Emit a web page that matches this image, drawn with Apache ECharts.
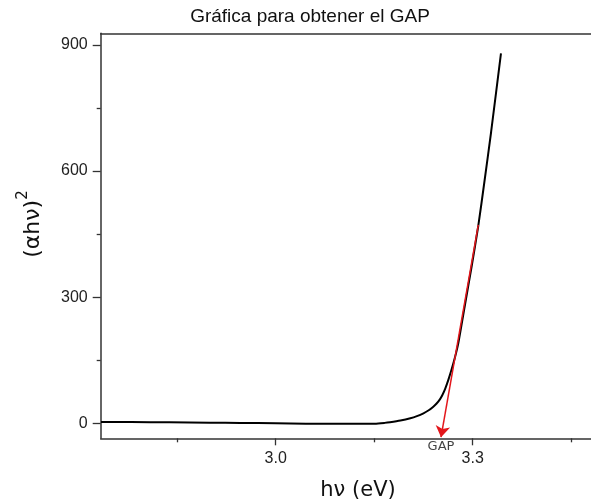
<!DOCTYPE html>
<html>
<head>
<meta charset="utf-8">
<script src="https://cdn.jsdelivr.net/npm/echarts@6/dist/echarts.min.js"></script>
<style>
  html, body { margin: 0; padding: 0; background: #fff; }
  #chart { width: 591px; height: 502px; }
</style>
</head>
<body>
<div id="chart"></div>
<script>
// Photon energy hν (eV) and (αhν)² for the absorption edge
var hv = [2.734, 2.78, 2.838, 2.90, 2.946, 3.00, 3.046, 3.10, 3.151, 3.166, 3.174, 3.19,
          3.205, 3.215, 3.225, 3.233, 3.240, 3.245, 3.250, 3.254, 3.258, 3.263, 3.268,
          3.273, 3.278, 3.288, 3.298, 3.3085, 3.318, 3.328, 3.343];
var alphaHv2 = [3.1, 2.9, 2.6, 1.5, 0.7, 0.2, -0.8, -1.0, -0.8, 1.0, 2.5, 6.5,
                11.9, 17, 23.8, 31, 39.5, 47, 57, 68, 82, 104, 129,
                157, 190, 280, 370, 470, 577, 693, 880];

// Linear fit of the steep part, extrapolated down to the energy axis
var tangentX = [3.3085, 3.2517];
var tangentY = [472, -33];
var gapLabel = 'GAP';

// Axis ticks
var xMajorTicks = [3.0, 3.3];
var xMinorTicks = [2.85, 3.15, 3.45];
var yMajorTicks = [0, 300, 600, 900];
var yMinorTicks = [150, 450, 750];

var X_MIN = 2.7335, X_MAX = 3.4801;
var Y_MIN = -35.7, Y_MAX = 927.8;

var curve = hv.map(function (x, i) { return [x, alphaHv2[i]]; });
var tangent = tangentX.map(function (x, i) { return [x, tangentY[i]]; });
var gapPoint = [[tangentX[1], tangentY[1]]];

var axisColor = '#333';
var labelFont = { fontFamily: 'Liberation Sans, Arial, sans-serif', fontSize: 16, color: '#222' };

var chart = echarts.init(document.getElementById('chart'), null, { renderer: 'canvas' });

chart.setOption({
  animation: false,
  backgroundColor: '#fff',
  title: {
    text: 'Gráfica para obtener el GAP',
    left: 305, textAlign: 'center', top: 2,
    textStyle: { fontFamily: 'Liberation Sans, Arial, sans-serif', fontSize: 19, fontWeight: 'normal', color: '#111' }
  },
  grid: { left: 100.7, right: 0, top: 33.3, bottom: 63.7, containLabel: false, outerBoundsMode: 'none' },
  xAxis: [
    {
      type: 'value', position: 'bottom', min: X_MIN, max: X_MAX,
      axisLine: { show: true, onZero: false, lineStyle: { color: axisColor, width: 1.5 } },
      axisTick: { show: true, inside: false, length: 7, customValues: xMajorTicks, lineStyle: { color: axisColor, width: 1.3 } },
      axisLabel: Object.assign({ show: true, margin: 12, customValues: xMajorTicks,
        formatter: function (v) { return v.toFixed(1); } }, labelFont),
      splitLine: { show: false }
    },
    {
      type: 'value', position: 'bottom', min: X_MIN, max: X_MAX,
      axisLine: { show: false, onZero: false },
      axisTick: { show: true, length: 4, customValues: xMinorTicks, lineStyle: { color: axisColor, width: 1.3 } },
      axisLabel: { show: false },
      splitLine: { show: false }
    },
    {
      type: 'value', position: 'top', min: X_MIN, max: X_MAX,
      axisLine: { show: true, onZero: false, lineStyle: { color: axisColor, width: 1.5 } },
      axisTick: { show: false }, axisLabel: { show: false }, splitLine: { show: false }
    }
  ],
  yAxis: [
    {
      type: 'value', position: 'left', min: Y_MIN, max: Y_MAX,
      axisLine: { show: true, onZero: false, lineStyle: { color: axisColor, width: 1.5 } },
      axisTick: { show: true, length: 8, customValues: yMajorTicks, lineStyle: { color: axisColor, width: 1.3 } },
      axisLabel: Object.assign({ show: true, margin: 13, customValues: yMajorTicks }, labelFont),
      splitLine: { show: false }
    },
    {
      type: 'value', position: 'left', min: Y_MIN, max: Y_MAX,
      axisLine: { show: false, onZero: false },
      axisTick: { show: true, length: 4, customValues: yMinorTicks, lineStyle: { color: axisColor, width: 1.3 } },
      axisLabel: { show: false },
      splitLine: { show: false }
    }
  ],
  graphic: [
    {
      type: 'text', x: 358, y: 491,
      style: { text: 'hν (eV)', fontFamily: 'DejaVu Sans, sans-serif', fontSize: 21, fill: '#111',
        textAlign: 'center', textVerticalAlign: 'middle' }
    },
    {
      type: 'text', x: 30, y: 224, rotation: Math.PI / 2,
      style: {
        text: '{a|(αhν)}{s|2}',
        textAlign: 'center', textVerticalAlign: 'middle',
        rich: {
          a: { fontFamily: 'DejaVu Sans, sans-serif', fontSize: 22, fill: '#111', lineHeight: 28, verticalAlign: 'bottom' },
          s: { fontFamily: 'DejaVu Sans, sans-serif', fontSize: 15, fill: '#111', lineHeight: 28, verticalAlign: 'top' }
        }
      }
    }
  ],
  series: [
    {
      type: 'line', xAxisIndex: 0, yAxisIndex: 0,
      data: curve, showSymbol: false, smooth: 0.2,
      lineStyle: { color: '#000', width: 2 }, z: 2
    },
    {
      type: 'lines', coordinateSystem: 'cartesian2d', xAxisIndex: 0, yAxisIndex: 0,
      polyline: false,
      symbol: ['none', 'arrow'], symbolSize: [6, 11],
      lineStyle: { color: '#e3161b', width: 1.5, opacity: 1 },
      data: [{ coords: tangent }],
      z: 3
    },
    {
      // band-gap marker text under the arrow tip
      type: 'scatter', xAxisIndex: 0, yAxisIndex: 0,
      data: gapPoint, symbolSize: 0, silent: true, clip: false,
      label: { show: true, position: 'bottom', distance: 3, formatter: gapLabel,
        fontFamily: 'DejaVu Sans, sans-serif', fontSize: 13, color: '#111' },
      z: 4
    }
  ]
});
</script>
</body>
</html>
